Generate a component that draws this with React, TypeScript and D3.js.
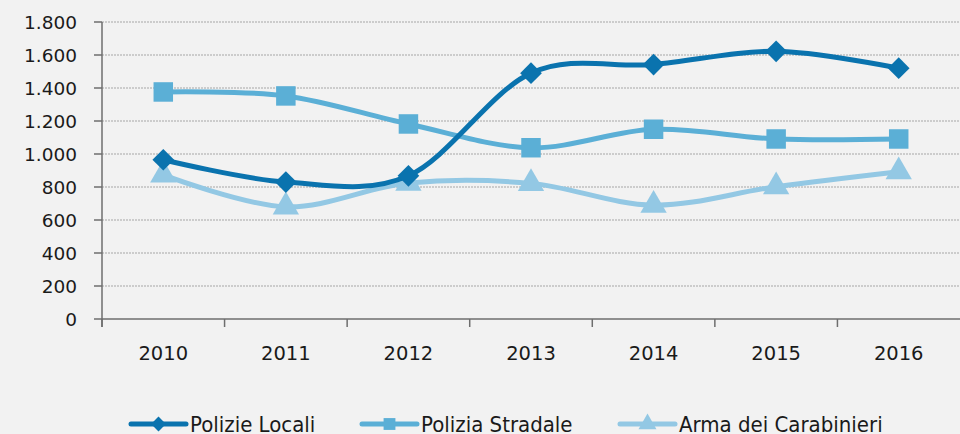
import React, { useRef, useEffect } from 'react';
import * as d3 from 'd3';

const years = ['2010', '2011', '2012', '2013', '2014', '2015', '2016'];
const polizieLocali = [965, 830, 868, 1490, 1542, 1622, 1520];
const poliziaStradale = [1376, 1352, 1182, 1038, 1150, 1091, 1091];
const armaCarabinieri = [873, 680, 824, 822, 690, 802, 893];
const yTicks = [0, 200, 400, 600, 800, 1000, 1200, 1400, 1600, 1800];

const seriesNames = ['Polizie Locali', 'Polizia Stradale', 'Arma dei Carabinieri'];
const seriesColors = ['#0A73AE', '#5BAFD6', '#93C8E4'];
const seriesSymbols = [d3.symbolDiamond2, d3.symbolSquare, d3.symbolTriangle];

const fmt = (v: number) => d3.format(',')(v).replace(/,/g, '.');

const App = () => {
    const svgRef = useRef<SVGSVGElement>(null);

    useEffect(() => {
        if (!svgRef.current) return;
        const svg = d3.select(svgRef.current);
        svg.selectAll('*').remove();

        const left = 102, right = 960, top = 22, bottom = 319;

        const x = d3.scaleBand().domain(years).range([left, right]);
        const y = d3.scaleLinear().domain([0, 1800]).range([bottom, top]);

        svg.append('rect').attr('width', 960).attr('height', 434).attr('fill', '#F2F2F2');

        // gridlines
        svg.append('g')
            .selectAll('line')
            .data(yTicks.filter(d => d > 0))
            .join('line')
            .attr('x1', left).attr('x2', right)
            .attr('y1', d => y(d)).attr('y2', d => y(d))
            .attr('stroke', '#A6A6A6')
            .attr('stroke-width', 1)
            .attr('stroke-dasharray', '2,1');

        // y axis
        const yAxis = svg.append('g');
        yAxis.append('line')
            .attr('x1', left).attr('x2', left)
            .attr('y1', top).attr('y2', bottom + 8)
            .attr('stroke', '#6E6E6E').attr('stroke-width', 1.5);
        yAxis.selectAll('.yt')
            .data(yTicks)
            .join('line')
            .attr('x1', left - 8).attr('x2', left)
            .attr('y1', d => y(d)).attr('y2', d => y(d))
            .attr('stroke', '#6E6E6E').attr('stroke-width', 1.5);
        yAxis.selectAll('text')
            .data(yTicks)
            .join('text')
            .attr('x', 77)
            .attr('y', d => y(d))
            .attr('dy', '0.36em')
            .attr('text-anchor', 'end')
            .attr('font-family', 'DejaVu Sans, Verdana, sans-serif')
            .attr('font-size', 18.5)
            .attr('fill', '#1A1A1A')
            .text(d => fmt(d));

        // x axis
        const xAxis = svg.append('g');
        xAxis.append('line')
            .attr('x1', left).attr('x2', right)
            .attr('y1', bottom).attr('y2', bottom)
            .attr('stroke', '#6E6E6E').attr('stroke-width', 1.5);
        xAxis.selectAll('.xt')
            .data(years)
            .join('line')
            .attr('x1', d => x(d)!).attr('x2', d => x(d)!)
            .attr('y1', bottom).attr('y2', bottom + 8)
            .attr('stroke', '#6E6E6E').attr('stroke-width', 1.5);
        xAxis.selectAll('text')
            .data(years)
            .join('text')
            .attr('x', d => x(d)! + x.bandwidth() / 2)
            .attr('y', 360)
            .attr('text-anchor', 'middle')
            .attr('font-family', 'DejaVu Sans, Verdana, sans-serif')
            .attr('font-size', 19.5)
            .attr('fill', '#1A1A1A')
            .text(d => d);

        const allSeries = [polizieLocali, poliziaStradale, armaCarabinieri];
        const line = d3.line<number>()
            .x((d, i) => x(years[i])! + x.bandwidth() / 2)
            .y(d => y(d))
            .curve(d3.curveCardinal.tension(0));

        const markerSizes = [300, 380, 300];

        // draw in reverse so dark line is on top
        [2, 1, 0].forEach(s => {
            const g = svg.append('g');
            g.append('path')
                .attr('d', line(allSeries[s]))
                .attr('fill', 'none')
                .attr('stroke', seriesColors[s])
                .attr('stroke-width', 5);
            g.selectAll('path.m')
                .data(allSeries[s])
                .join('path')
                .attr('class', 'm')
                .attr('transform', (d, i) => `translate(${x(years[i])! + x.bandwidth() / 2},${y(d)})`)
                .attr('d', d3.symbol().type(seriesSymbols[s]).size(markerSizes[s]))
                .attr('fill', seriesColors[s]);
        });

        // legend
        const legendX = [131, 362, 620];
        const legend = svg.append('g');
        seriesNames.forEach((name, s) => {
            const lg = legend.append('g').attr('transform', `translate(${legendX[s]},424)`);
            lg.append('line')
                .attr('x1', 0).attr('x2', 55)
                .attr('stroke', seriesColors[s])
                .attr('stroke-width', 5)
                .attr('stroke-linecap', 'round');
            lg.append('path')
                .attr('transform', 'translate(27.5,0)')
                .attr('d', d3.symbol().type(seriesSymbols[s]).size(140))
                .attr('fill', seriesColors[s]);
            lg.append('text')
                .attr('x', 59)
                .attr('y', 0)
                .attr('dy', '0.36em')
                .attr('font-family', '"Liberation Sans Narrow", "DejaVu Sans Condensed", sans-serif')
                .attr('font-size', 22)
                .attr('fill', '#1A1A1A')
                .text(name);
        });
    }, []);

    return (
        <svg
            ref={svgRef}
            width={960}
            height={434}
            style={{ position: 'absolute', left: 0, top: 0, display: 'block' }}
        ></svg>
    );
};

export default App;
